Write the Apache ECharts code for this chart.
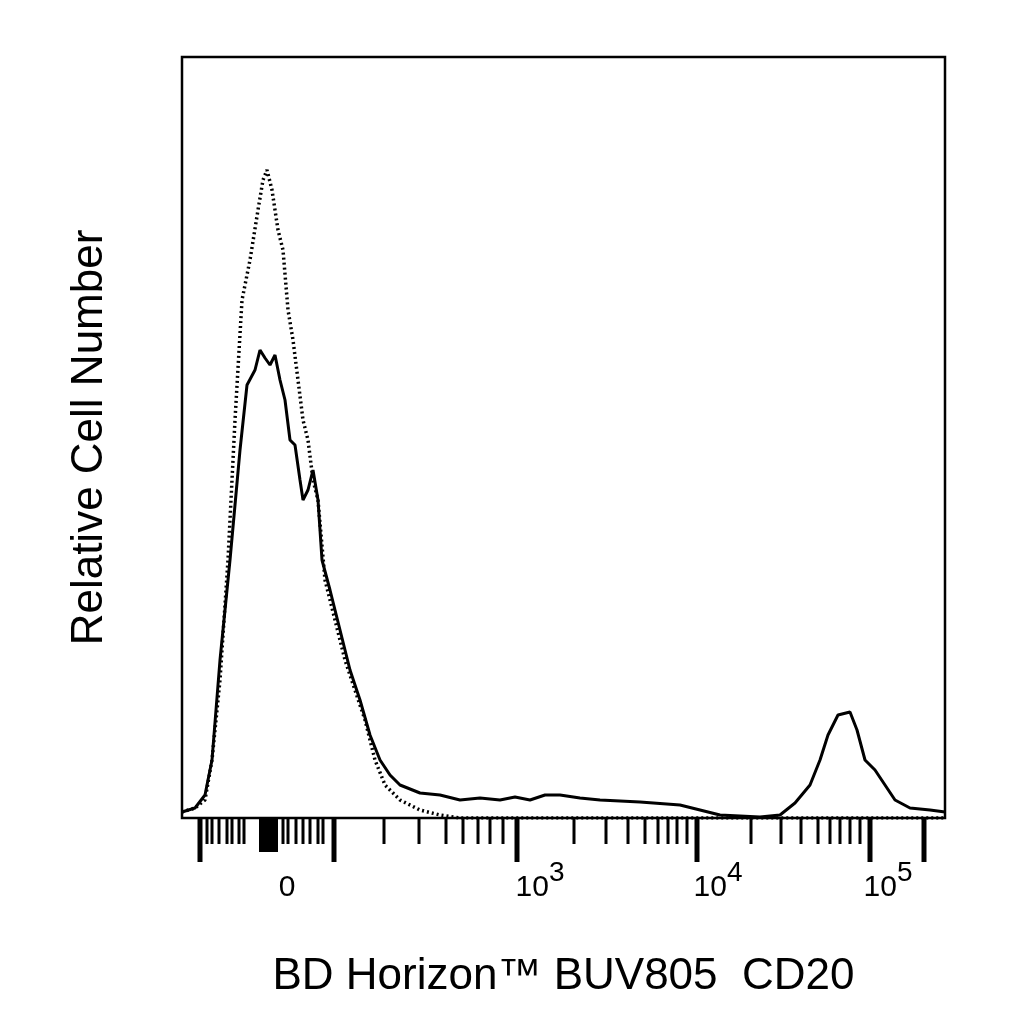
<!DOCTYPE html>
<html><head><meta charset="utf-8">
<script src="https://cdn.jsdelivr.net/npm/echarts@6/dist/echarts.min.js"></script>
<style>html,body{margin:0;background:#fff}#c{width:1024px;height:1024px}</style>
</head><body><div id="c"></div>
<script>
const solidX=[0,13,23,30,38,48,58,65,73,78,83,88,93,98,103,108,113,118,121,126,131,136,140,148,158,168,178,188,198,208,218,238,258,278,298,318,333,348,363,378,398,418,458,498,518,538,578,598,613,628,638,646,656,668,675,683,693,703,713,728,748,763];
const solidY=[6,10,23,58,158,258,368,433,448,468,460,453,463,438,418,378,373,338,318,328,348,318,258,228,188,148,118,83,58,43,33,25,23,18,20,18,21,18,23,23,20,18,16,13,8,3,1,3,15,33,58,83,103,106,88,58,48,33,18,10,8,6];
const dotX=[0,13,23,30,38,46,53,60,68,76,81,85,90,96,101,106,111,116,121,126,131,136,143,153,163,173,183,193,203,218,238,258,278,763];
const dotY=[6,10,18,58,138,258,398,518,558,608,638,648,628,588,568,508,478,438,398,378,338,318,238,198,158,128,98,58,33,18,8,3,0,0];
const majorTicks=[18,152,335,515,688,742];
const minorTicks=[25,30,37,45,50,57,62,101,106,114,121,128,136,141,202,237,264,281,296,308,321,392,424,446,463,476,486,495,505,569,599,619,636,648,658,668,678];
const zeroBand=[77,96];
const tickLabels=[{x:105,t:'0'},{x:358,t:'10',s:'3'},{x:536,t:'10',s:'4'},{x:706,t:'10',s:'5'}];
const chart=echarts.init(document.getElementById('c'));
const ticks=majorTicks.map(v=>[v,1]).concat(minorTicks.map(v=>[v,0]));
chart.setOption({
 animation:false,
 grid:{left:182,right:79,top:57,bottom:206,show:true,borderColor:'#000',borderWidth:2.5,backgroundColor:'#fff'},
 xAxis:{type:'value',min:0,max:763,axisLine:{show:false},axisTick:{show:false},axisLabel:{show:false},splitLine:{show:false},
  name:'BD Horizon™ BUV805  CD20',nameLocation:'middle',nameGap:137,nameTextStyle:{fontFamily:'Liberation Sans',fontSize:44,color:'#000'}},
 yAxis:{type:'value',min:0,max:761,axisLine:{show:false},axisTick:{show:false},axisLabel:{show:false},splitLine:{show:false},
  name:'Relative Cell Number',nameLocation:'middle',nameGap:70,nameTextStyle:{fontFamily:'Liberation Sans',fontSize:44,color:'#000'}},
 series:[
  {type:'line',data:dotX.map((x,i)=>[x,dotY[i]]),showSymbol:false,lineStyle:{color:'#000',width:3.5,type:[2,3]},z:3},
  {type:'line',data:solidX.map((x,i)=>[x,solidY[i]]),showSymbol:false,lineStyle:{color:'#000',width:3},z:4},
  {type:'custom',clip:false,data:ticks,renderItem:(p,api)=>{
    const c=api.coord([api.value(0),0]);const L=api.value(1)?44:26;
    return {type:'line',shape:{x1:c[0],y1:c[1],x2:c[0],y2:c[1]+L},style:{stroke:'#000',lineWidth:api.value(1)?5:3}};}},
  {type:'custom',clip:false,data:[zeroBand],renderItem:(p,api)=>{
    const a=api.coord([api.value(0),0]),b=api.coord([api.value(1),0]);
    return {type:'rect',shape:{x:a[0],y:a[1],width:b[0]-a[0],height:34},style:{fill:'#000'}};}},
  {type:'custom',clip:false,data:tickLabels.map(d=>[d.x]),renderItem:(p,api)=>{
    const d=tickLabels[p.dataIndex];const c=api.coord([api.value(0),0]);
    return {type:'text',x:c[0],y:c[1]+70,style:{text:d.s?'{b|'+d.t+'}{s|'+d.s+'}':'{b|'+d.t+'}',align:'center',verticalAlign:'middle',
     rich:{b:{fontFamily:'Liberation Sans',fontSize:30,color:'#000'},s:{fontFamily:'Liberation Sans',fontSize:28,color:'#000',padding:[0,0,30,0]}}}};}}
 ]
});
</script></body></html>
